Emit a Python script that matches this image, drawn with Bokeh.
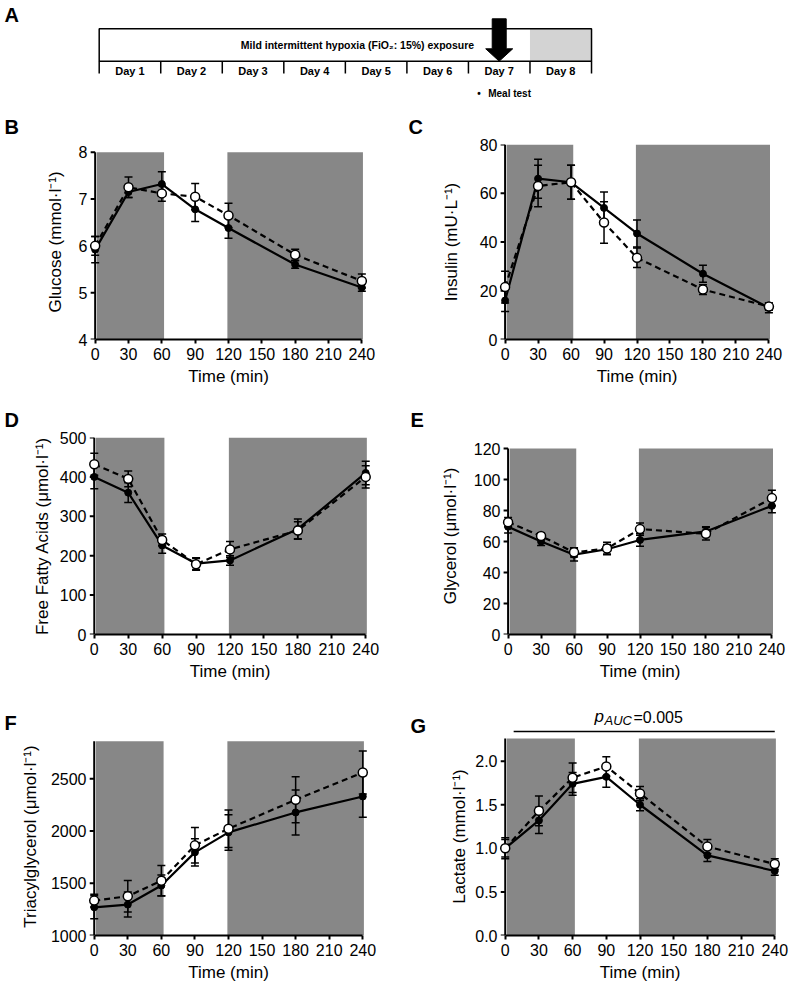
from bokeh.plotting import figure
from bokeh.layouts import column, row
from bokeh.models import Range1d, FixedTicker, PrintfTickFormatter
from bokeh.embed import file_html
from bokeh.resources import INLINE
from bokeh.core.properties import value

FONT = "Liberation Sans"
SHADE = "#878787"
PAGE_W = 790

# ---------------- data ----------------
time_min = [0, 30, 60, 90, 120, 180, 240]
time_ticks = [0, 30, 60, 90, 120, 150, 180, 210, 240]
shade_start = [1.5, 119]
shade_end = [62, 241]

days = ["Day 1", "Day 2", "Day 3", "Day 4", "Day 5", "Day 6", "Day 7", "Day 8"]
meal_day = 7
exposure_title = "Mild intermittent hypoxia (FiO\u2082: 15%) exposure"

glucose_solid = [5.92, 7.15, 7.32, 6.78, 6.38, 5.60, 5.11]
glucose_solid_err = [0.28, 0.12, 0.26, 0.26, 0.22, 0.08, 0.08]
glucose_open = [6.00, 7.25, 7.12, 7.05, 6.65, 5.81, 5.25]
glucose_open_err = [0.20, 0.22, 0.17, 0.28, 0.26, 0.12, 0.15]

insulin_solid = [16.0, 66.0, 64.5, 54.0, 43.5, 27.0, 13.0]
insulin_solid_err = [4.5, 8.0, 7.0, 6.5, 5.5, 3.5, 2.0]
insulin_open = [21.5, 63.0, 64.5, 48.0, 33.5, 20.5, 13.5]
insulin_open_err = [6.5, 8.5, 7.0, 8.5, 4.0, 2.0, 1.5]

ffa_solid = [400, 360, 226, 180, 188, 268, 410]
ffa_solid_err = [30, 25, 20, 15, 12, 25, 30]
ffa_open = [432, 395, 240, 178, 216, 264, 400]
ffa_open_err = [28, 20, 15, 15, 20, 22, 28]

glycerol_solid = [69.5, 60.0, 51.5, 55.0, 61.0, 66.5, 83.0]
glycerol_solid_err = [4.0, 2.5, 4.0, 3.0, 4.0, 3.0, 4.5]
glycerol_open = [72.5, 63.5, 53.0, 55.5, 68.0, 65.0, 88.0]
glycerol_open_err = [3.0, 2.0, 3.0, 4.0, 4.0, 4.0, 5.0]

tag_solid = [1270, 1296, 1478, 1796, 1987, 2178, 2331]
tag_solid_err = [110, 120, 100, 130, 170, 215, 200]
tag_open = [1334, 1376, 1525, 1863, 2022, 2299, 2560]
tag_open_err = [60, 150, 145, 170, 180, 220, 205]

lactate_solid = [1.00, 1.32, 1.74, 1.82, 1.50, 0.92, 0.74]
lactate_solid_err = [0.12, 0.15, 0.13, 0.12, 0.07, 0.07, 0.05]
lactate_open = [1.00, 1.43, 1.81, 1.94, 1.63, 1.02, 0.82]
lactate_open_err = [0.10, 0.17, 0.17, 0.11, 0.08, 0.08, 0.06]
p_auc_value = "=0.005"

X_LO, X_HI = -6, 246


def style_axes(p, y_standoff):
    for ax in list(p.xaxis) + list(p.yaxis):
        ax.axis_line_width = 2
        ax.axis_line_color = "black"
        ax.major_tick_line_width = 2
        ax.major_tick_line_color = "black"
        ax.major_tick_out = 4
        ax.major_tick_in = 0
        ax.minor_tick_out = 0
        ax.minor_tick_in = 0
        ax.major_label_text_font = FONT
        ax.major_label_text_font_size = "16px"
        ax.major_label_text_color = "black"
        ax.major_label_standoff = 4
        ax.axis_label_text_font = FONT
        ax.axis_label_text_font_size = "17px"
        ax.axis_label_text_font_style = "normal"
        ax.axis_label_text_color = "black"
    p.xaxis[0].axis_label_standoff = 4
    ya = p.yaxis[0]
    # the y rule and its ticks are drawn at t = 0 below; the axis keeps labels only
    ya.axis_line_color = None
    ya.major_tick_line_color = None
    ya.major_tick_out = 0
    ya.major_label_standoff = 1
    ya.axis_label_standoff = y_standoff


def make_panel(ylabel, y_lo, y_top, y_hi, y_ticks, solid, solid_err, opn, opn_err,
               width, height, mbl, mbr, mbt, mbb, y_standoff, fmt=None):
    p = figure(width=width, height=height, min_border_left=mbl, min_border_right=mbr,
               min_border_top=mbt, min_border_bottom=mbb, x_range=Range1d(X_LO, X_HI),
               y_range=Range1d(y_lo, y_hi), output_backend="svg", toolbar_location=None,
               title=None, x_axis_label="Time (min)", y_axis_label=ylabel)
    p.grid.visible = False
    p.outline_line_color = None
    p.background_fill_color = "white"
    p.xaxis[0].ticker = FixedTicker(ticks=time_ticks, minor_ticks=[])
    p.xaxis[0].bounds = (0, 240)
    p.yaxis[0].ticker = FixedTicker(ticks=y_ticks, minor_ticks=[])
    if fmt:
        p.yaxis[0].formatter = PrintfTickFormatter(format=fmt)
    style_axes(p, y_standoff)

    px_per_min = (width - mbl - mbr) / (X_HI - X_LO)
    tick_len = 4.5 / px_per_min

    p.quad(left=shade_start, right=shade_end, bottom=y_lo, top=y_top,
           fill_color=SHADE, line_color=None)

    # y rule at t = 0 with outward ticks
    p.segment(x0=[0], y0=[y_lo], x1=[0], y1=[y_top], line_color="black", line_width=2)
    p.segment(x0=[-tick_len] * len(y_ticks), y0=y_ticks, x1=[0] * len(y_ticks), y1=y_ticks,
              line_color="black", line_width=2)

    for vals, errs in ((opn, opn_err), (solid, solid_err)):
        lo = [v - e for v, e in zip(vals, errs)]
        hi = [v + e for v, e in zip(vals, errs)]
        p.segment(x0=time_min, y0=lo, x1=time_min, y1=hi, line_color="black", line_width=1.5)
        p.scatter(x=time_min + time_min, y=lo + hi, marker="dash", size=8,
                  line_color="black", line_width=1.5)

    p.line(time_min, solid, line_color="black", line_width=2.2)
    p.line(time_min, opn, line_color="black", line_width=2.2, line_dash="6 4")
    p.scatter(time_min, solid, marker="circle", size=7, fill_color="black", line_color="black")
    p.scatter(time_min, opn, marker="circle", size=9, fill_color="white",
              line_color="black", line_width=1.5)
    return p


def strip(y0, y1):
    """Full-width strip; data coordinates equal page pixels."""
    f = figure(width=PAGE_W, height=y1 - y0, x_range=Range1d(0, PAGE_W),
               y_range=Range1d(y1, y0),
               min_border_left=0, min_border_right=0, min_border_top=0, min_border_bottom=0,
               output_backend="svg", toolbar_location=None, title=None,
               x_axis_location=None, y_axis_location=None)
    f.grid.visible = False
    f.outline_line_color = None
    return f


def add_letters(f, items):
    for letter, x, y in items:
        f.text(x=[x], y=[y], text=[letter], text_font=value(FONT), text_font_size="20px",
               text_font_style="bold", text_align="left", text_baseline="middle",
               text_color="black")


# ---------------- panel A (page strip 0-138) ----------------
pa = strip(0, 138)
day_px, box_x0 = 61.54, 98.7
day_edges = [box_x0 + i * day_px for i in range(len(days) + 1)]
day_mid = [box_x0 + (i + 0.5) * day_px for i in range(len(days))]
box_top, box_bot, tick_bot = 28.3, 60.7, 73.0
pa.quad(left=[day_edges[-2]], right=[day_edges[-1]], top=[box_top], bottom=[box_bot],
        fill_color="#d3d3d3", line_color=None)
pa.quad(left=[day_edges[0]], right=[day_edges[-1]], top=[box_top], bottom=[box_bot],
        fill_color=None, line_color="black", line_width=1.5)
pa.segment(x0=day_edges, y0=[box_bot] * len(day_edges), x1=day_edges,
           y1=[tick_bot] * len(day_edges), line_color="black", line_width=1.5)
pa.text(x=day_mid, y=[70.5] * len(days), text=days,
        text_font=value(FONT), text_font_size="11px", text_font_style="bold",
        text_align="center", text_baseline="middle", text_color="black")
pa.text(x=[357], y=[44.3], text=[exposure_title], text_font=value(FONT),
        text_font_size="10.5px", text_font_style="bold", text_align="center",
        text_baseline="middle", text_color="black")
cx = day_mid[meal_day - 1]
hw, hh = 7, 13.5
pa.patch([cx - hw, cx + hw, cx + hw, cx + hh, cx, cx - hh, cx - hw],
         [18.3, 18.3, 48.3, 48.3, box_bot, 48.3, 48.3], fill_color="black", line_color="black")
pa.text(x=[cx - 22], y=[93], text=["\u2022"], text_font=value(FONT),
        text_font_size="10px", text_font_style="bold", text_align="left",
        text_baseline="middle", text_color="black")
pa.text(x=[cx - 11], y=[93], text=["Meal test"], text_font=value(FONT),
        text_font_size="10px", text_font_style="bold", text_align="left",
        text_baseline="middle", text_color="black")
add_letters(pa, [("A", 4, 14), ("B", 4, 126.5), ("C", 408, 126.5)])

# ---------------- row 1 (138-400) ----------------
pb = make_panel("Glucose (mmol\u00b7l\u207b\u00b9)", 4, 8, 8.1645, [4, 5, 6, 7, 8],
                glucose_solid, glucose_solid_err, glucose_open, glucose_open_err,
                400, 262, 88, 32, 6, 61, 11)
pc = make_panel("Insulin (mU\u00b7L\u207b\u00b9)", 0, 80, 80, [0, 20, 40, 60, 80],
                insulin_solid, insulin_solid_err, insulin_open, insulin_open_err,
                390, 262, 98, 15, 6, 61, 16)

# ---------------- strip 2 (400-431) ----------------
s2 = strip(400, 431)
add_letters(s2, [("D", 4, 419.5), ("E", 410, 419.5)])

# ---------------- row 2 (431-690) ----------------
pd_ = make_panel("Free Fatty Acids (\u03bcmol\u00b7l\u207b\u00b9)", 0, 500, 500,
                 [0, 100, 200, 300, 400, 500],
                 ffa_solid, ffa_solid_err, ffa_open, ffa_open_err,
                 400, 259, 87, 28, 6, 56, 5)
pe = make_panel("Glycerol (\u03bcmol\u00b7l\u207b\u00b9)", 0, 120, 127.1,
                [0, 20, 40, 60, 80, 100, 120],
                glycerol_solid, glycerol_solid_err, glycerol_open, glycerol_open_err,
                390, 259, 101, 12, 6, 56, 11)

# ---------------- strip 3 (690-737) with letters and p_AUC ----------------
s3 = strip(690, 737)
add_letters(s3, [("F", 4, 722), ("G", 410, 725.5)])
g_mbl, g_fw = 98, 283
g_k = g_fw / (X_HI - X_LO)
g_x0 = 400 + g_mbl - X_LO * g_k          # page x of t = 0 in panel G


def gx(t):
    return g_x0 + g_k * t


s3.line([gx(7.5), gx(240)], [731, 731], line_color="black", line_width=1.5)
anchor = gx(120)
s3.text(x=[anchor - 45.5], y=[716.1], text=["p"], text_font=value(FONT),
        text_font_size="17px", text_font_style="italic", text_align="left",
        text_baseline="middle", text_color="black")
s3.text(x=[anchor - 35.5], y=[719.5], text=["AUC"], text_font=value(FONT),
        text_font_size="13px", text_font_style="italic", text_align="left",
        text_baseline="middle", text_color="black")
s3.text(x=[anchor - 6.5], y=[716.5], text=[p_auc_value], text_font=value(FONT),
        text_font_size="16px", text_align="left", text_baseline="middle",
        text_color="black")

# ---------------- row 3 (737-987) ----------------
pf = make_panel("Triacylglycerol (\u03bcmol\u00b7l\u207b\u00b9)", 1000, 2860, 2895.4,
                [1000, 1500, 2000, 2500],
                tag_solid, tag_solid_err, tag_open, tag_open_err,
                400, 250, 87, 31, 0, 52, 8)
pg = make_panel("Lactate (mmol\u00b7l\u207b\u00b9)", 0, 2.26, 2.2715,
                [0, 0.5, 1.0, 1.5, 2.0],
                lactate_solid, lactate_solid_err, lactate_open, lactate_open_err,
                390, 250, g_mbl, 390 - g_mbl - g_fw, 0, 52, 3, fmt="%.1f")

layout = column(pa, row(pb, pc), s2, row(pd_, pe), s3, row(pf, pg))

with open("out.html", "w") as f:
    f.write(file_html(layout, INLINE))
